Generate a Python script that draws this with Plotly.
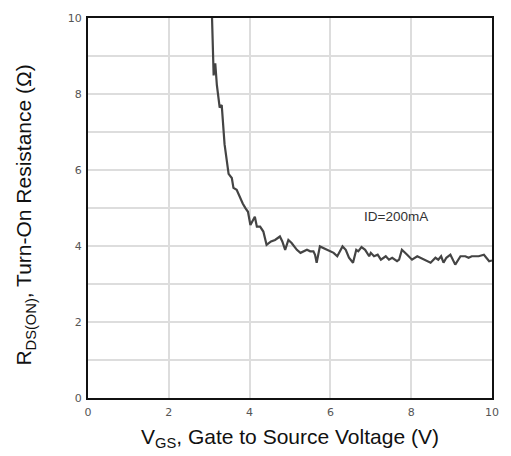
import plotly.graph_objects as go

vgs = [3.07, 3.11, 3.15, 3.19, 3.26, 3.31, 3.38, 3.48, 3.56, 3.60, 3.68, 3.75, 3.83,
       3.90, 3.96, 4.02, 4.13, 4.18, 4.26, 4.34, 4.42, 4.53, 4.63, 4.75, 4.81, 4.88,
       4.96, 5.04, 5.17, 5.26, 5.34, 5.42, 5.50, 5.58, 5.62, 5.66, 5.74, 5.82, 5.90,
       6.00, 6.08, 6.17, 6.21, 6.30, 6.38, 6.46, 6.56, 6.64, 6.69, 6.77, 6.86, 6.96,
       7.00, 7.08, 7.17, 7.25, 7.37, 7.45, 7.53, 7.65, 7.70, 7.77, 7.90, 8.02, 8.15,
       8.23, 8.35, 8.48, 8.60, 8.67, 8.74, 8.80, 8.87, 8.97, 9.09, 9.22, 9.34, 9.42,
       9.50, 9.67, 9.80, 9.93, 10.0]
rds = [10.0, 8.49, 8.81, 8.23, 7.64, 7.71, 6.68, 5.90, 5.79, 5.53, 5.48, 5.30, 5.12,
       4.99, 4.90, 4.55, 4.77, 4.51, 4.51, 4.38, 4.03, 4.12, 4.16, 4.25, 4.12, 3.90,
       4.16, 4.08, 3.90, 3.82, 3.86, 3.90, 3.86, 3.86, 3.77, 3.56, 3.99, 3.95, 3.90,
       3.86, 3.82, 3.73, 3.82, 3.99, 3.90, 3.69, 3.56, 3.90, 3.86, 3.97, 3.90, 3.73,
       3.82, 3.73, 3.77, 3.64, 3.73, 3.64, 3.69, 3.60, 3.64, 3.90, 3.77, 3.64, 3.73,
       3.69, 3.63, 3.56, 3.69, 3.64, 3.73, 3.56, 3.69, 3.77, 3.51, 3.73, 3.73, 3.69,
       3.73, 3.73, 3.77, 3.60, 3.62]
x_ticks = [0, 2, 4, 6, 8, 10]
y_ticks = [0, 2, 4, 6, 8, 10]

fig = go.Figure()
fig.add_trace(go.Scatter(x=vgs, y=rds, mode="lines",
                         line=dict(color="#444444", width=2.2), showlegend=False))

fig.add_annotation(x=7.63, y=4.78, text="ID=200mA", showarrow=False,
                   font=dict(family="Liberation Sans", size=13.5, color="#333333"))

fig.add_annotation(xref="paper", yref="paper", x=0.5, y=0, yshift=-40,
                   text="V<sub>GS</sub>, Gate to Source Voltage (V)", showarrow=False,
                   yanchor="middle",
                   font=dict(family="Liberation Sans", size=21, color="#111111"))
fig.add_annotation(xref="paper", yref="paper", x=0, xshift=-63, y=0.48,
                   text="R<sub>DS(ON)</sub>, Turn-On Resistance (Ω)", showarrow=False,
                   textangle=-90, xanchor="center",
                   font=dict(family="Liberation Sans", size=21, color="#111111"))

axis_common = dict(showline=True, linecolor="#111111", linewidth=2, mirror=True,
                   showgrid=True, gridcolor="#dddddd", gridwidth=1.5, zeroline=False,
                   tickfont=dict(family="DejaVu Sans", size=11, color="#555555"),
                   ticks="outside", tickcolor="rgba(0,0,0,0)")

fig.update_xaxes(range=[0, 10], tickvals=x_ticks, ticklen=3, **axis_common)
fig.update_yaxes(range=[0, 10], tickvals=y_ticks, ticklen=2,
                 minor=dict(dtick=1, showgrid=True, gridcolor="#dddddd", gridwidth=1.5,
                            ticks=""), **axis_common)

fig.update_layout(width=511, height=456, margin=dict(l=88, r=16, t=12, b=58),
                  plot_bgcolor="white", paper_bgcolor="white")

fig.write_html("out.html", config={"displayModeBar": False},
               post_script="document.body.style.margin='0';document.body.style.overflow='hidden';")
